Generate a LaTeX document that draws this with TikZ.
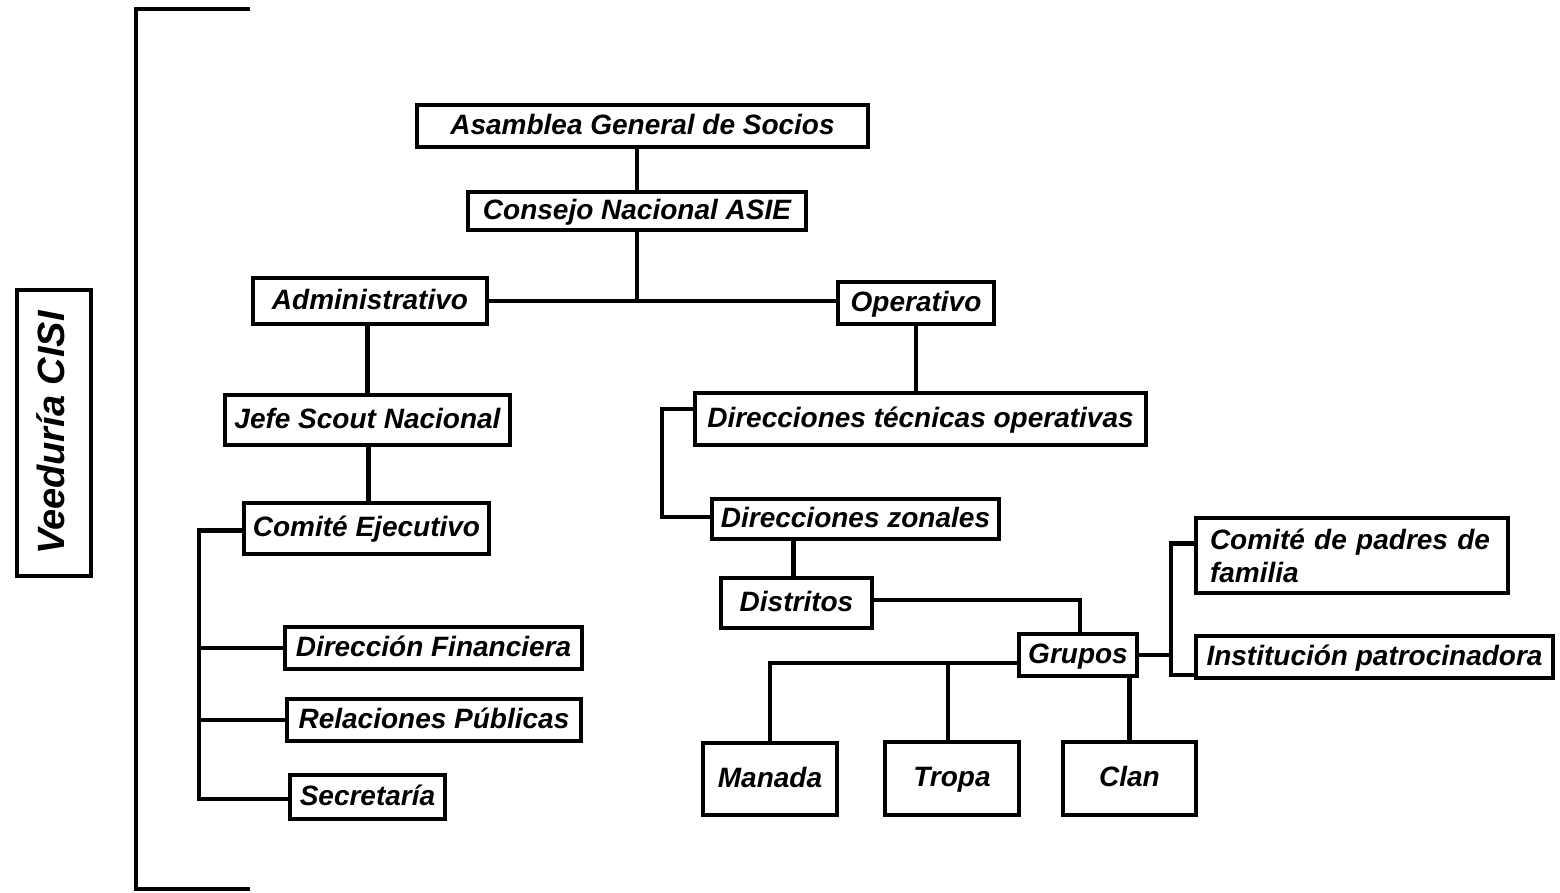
\documentclass[tikz,border=0pt]{standalone}
\usepackage{fontspec}
\setmainfont{Liberation Sans}
\begin{document}
\begin{tikzpicture}[x=1pt,y=-1pt,
  base/.style={draw, line width=4.5pt, inner sep=0pt,
    font=\fontsize{28}{33}\selectfont\bfseries\itshape},
  bx/.style={base, align=center, text height=21pt, text depth=5pt},
  ln/.style={line width=4.5pt},
]
\useasboundingbox (0,0) rectangle (1560,892);
% boxes
\node[bx, minimum width=451pt, minimum height=42pt] (asam) at (642.5,126) {Asamblea General de Socios};
\node[bx, minimum width=338pt, minimum height=38pt] (cons) at (637,211) {Consejo Nacional ASIE};
\node[bx, minimum width=234pt, minimum height=46pt] (adm) at (370,301) {Administrativo};
\node[bx, minimum width=156pt, minimum height=42pt] (oper) at (916,303) {Operativo};
\node[bx, minimum width=285pt, minimum height=50pt] (jefe) at (367.5,420) {Jefe Scout Nacional};
\node[bx, minimum width=245pt, minimum height=51pt] (com) at (366.5,528.5) {Comité Ejecutivo};
\node[bx, minimum width=297pt, minimum height=42pt] (fin) at (433.5,648) {Dirección Financiera};
\node[bx, minimum width=294pt, minimum height=42pt] (rel) at (434,720) {Relaciones Públicas};
\node[bx, minimum width=155pt, minimum height=44pt] (sec) at (367.5,797) {Secretaría};
\node[bx, minimum width=451pt, minimum height=52pt] (dtec) at (920.5,419) {Direcciones técnicas operativas};
\node[bx, minimum width=287pt, minimum height=40pt] (dzon) at (855.5,519) {Direcciones zonales};
\node[bx, minimum width=151pt, minimum height=50pt] (dist) at (796.5,603) {Distritos};
\node[bx, minimum width=118pt, minimum height=42pt] (grup) at (1078,655) {Grupos};
\node[bx, minimum width=134pt, minimum height=72pt] (man) at (770,779) {Manada};
\node[bx, minimum width=134pt, minimum height=73pt] (tro) at (952,778.5) {Tropa};
\node[bx, minimum width=133pt, minimum height=73pt] (clan) at (1129.5,778.5) {Clan};
\node[base, align=left, text width=284pt, inner xsep=14pt, minimum height=75pt] (cpad) at (1352,555.5) {Comité de padres de\\familia};
\node[bx, minimum width=357pt, minimum height=42pt] (inst) at (1374.5,657) {Institución patrocinadora};
\node[bx, rotate=90, minimum width=286pt, minimum height=74pt, text height=27pt, text depth=7pt,
  font=\fontsize{38}{42}\selectfont\bfseries\itshape] (veed) at (54,433) {Veeduría CISI};
% big bracket
\coordinate (bt1) at (250,9);
\coordinate (bt0) at (136,9);
\coordinate (bb0) at (136,889);
\coordinate (bb1) at (250,889);
\draw[ln] (bt1) -- (bt0) -- (bb0) -- (bb1);
% connectors
\draw[ln] (cons.north) -- (cons.north |- asam.south);
\draw[ln] (cons.south) -- (cons.south |- adm.east);
\draw[ln] (adm.east) -- (adm.east -| oper.west);
\draw[ln] (jefe.north) -- (jefe.north |- adm.south);
\draw[ln] ([xshift=2pt]com.north) -- ([xshift=2pt]com.north |- jefe.south);
\coordinate (lb) at (199,0);
\draw[ln] ([yshift=-2pt]com.west) -- ([yshift=-2pt]com.west -| lb) -- ([yshift=-2pt]sec.west -| lb) -- ([yshift=-2pt]sec.west);
\draw[ln] (fin.west -| lb) -- (fin.west);
\draw[ln] (rel.west -| lb) -- (rel.west);
\draw[ln] (oper.south) -- (oper.south |- dtec.north);
\coordinate (mb) at (662,0);
\draw[ln] ([yshift=10pt]dtec.west) -- ([yshift=10pt]dtec.west -| mb) -- ([yshift=2pt]dzon.west -| mb) -- ([yshift=2pt]dzon.west);
\draw[ln] ([xshift=-3pt]dist.north) -- ([xshift=-3pt]dist.north |- dzon.south);
\draw[ln] ([yshift=3pt]dist.east) -| ([xshift=2pt]grup.north);
\coordinate (gl) at ([yshift=-8pt]grup.west);
\draw[ln] (gl) -| (man.north);
\draw[ln] ([xshift=-4pt]tro.north) -- ([xshift=-4pt]tro.north |- gl);
\draw[ln] (clan.north) -- (clan.north |- grup.south);
\coordinate (rb) at (1171,0);
\draw[ln] (grup.east) -- (grup.east -| rb);
\draw[ln] ([yshift=12pt]cpad.west) -- ([yshift=12pt]cpad.west -| rb) -- ([yshift=-18pt]inst.west -| rb) -- ([yshift=-18pt]inst.west);
\end{tikzpicture}
\end{document}
